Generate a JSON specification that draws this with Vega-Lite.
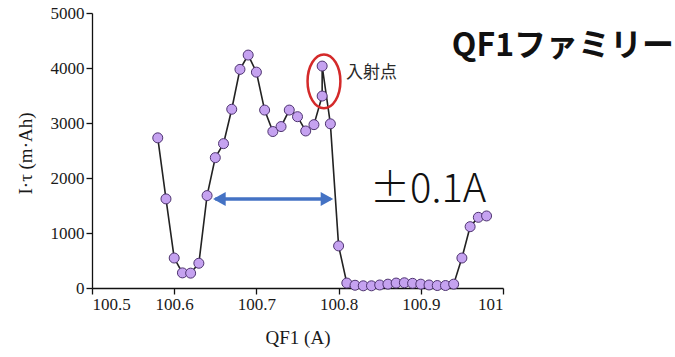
{
  "$schema": "https://vega.github.io/schema/vega-lite/v6.json",
  "autosize": "none",
  "padding": {"left": 92, "top": 13, "right": 172, "bottom": 69},
  "width": 411,
  "height": 275,
  "background": "white",
  "config": {
    "view": {"stroke": null},
    "axis": {
      "grid": false,
      "domainColor": "#111",
      "tickColor": "#111",
      "domainWidth": 1.3,
      "tickWidth": 1.3,
      "tickSize": 6,
      "labelFont": "Liberation Serif",
      "titleFont": "Liberation Serif",
      "labelColor": "#1a1a1a",
      "titleColor": "#1a1a1a",
      "titleFontWeight": "normal"
    }
  },
  "datasets": {
    "main": [
      {"i": 1, "x": 100.58, "y": 2730},
      {"i": 2, "x": 100.59, "y": 1620},
      {"i": 3, "x": 100.60, "y": 545},
      {"i": 4, "x": 100.61, "y": 275},
      {"i": 5, "x": 100.62, "y": 270},
      {"i": 6, "x": 100.63, "y": 450},
      {"i": 7, "x": 100.64, "y": 1680},
      {"i": 8, "x": 100.65, "y": 2370},
      {"i": 9, "x": 100.66, "y": 2625},
      {"i": 10, "x": 100.67, "y": 3250},
      {"i": 11, "x": 100.68, "y": 3975},
      {"i": 12, "x": 100.69, "y": 4235},
      {"i": 13, "x": 100.70, "y": 3925},
      {"i": 14, "x": 100.71, "y": 3235},
      {"i": 15, "x": 100.72, "y": 2845},
      {"i": 16, "x": 100.73, "y": 2935},
      {"i": 17, "x": 100.74, "y": 3235},
      {"i": 18, "x": 100.75, "y": 3115},
      {"i": 19, "x": 100.76, "y": 2855},
      {"i": 20, "x": 100.77, "y": 2970},
      {"i": 21, "x": 100.78, "y": 3490},
      {"i": 22, "x": 100.78, "y": 4035},
      {"i": 23, "x": 100.79, "y": 2985},
      {"i": 24, "x": 100.80, "y": 765},
      {"i": 25, "x": 100.81, "y": 90},
      {"i": 26, "x": 100.82, "y": 50},
      {"i": 27, "x": 100.83, "y": 40},
      {"i": 28, "x": 100.84, "y": 40},
      {"i": 29, "x": 100.85, "y": 55},
      {"i": 30, "x": 100.86, "y": 70},
      {"i": 31, "x": 100.87, "y": 90},
      {"i": 32, "x": 100.88, "y": 95},
      {"i": 33, "x": 100.89, "y": 85},
      {"i": 34, "x": 100.90, "y": 70},
      {"i": 35, "x": 100.91, "y": 55},
      {"i": 36, "x": 100.92, "y": 45},
      {"i": 37, "x": 100.93, "y": 45},
      {"i": 38, "x": 100.94, "y": 70},
      {"i": 39, "x": 100.95, "y": 545},
      {"i": 40, "x": 100.96, "y": 1115},
      {"i": 41, "x": 100.97, "y": 1285},
      {"i": 42, "x": 100.98, "y": 1310}
    ]
  },
  "layer": [
    {
      "data": {"name": "main"},
      "mark": {"type": "line", "color": "#222", "strokeWidth": 1.6},
      "encoding": {
        "x": {
          "field": "x", "type": "quantitative",
          "scale": {"domain": [100.5, 101], "nice": false, "zero": false},
          "axis": {
            "title": "QF1 (A)",
            "values": [100.5, 100.6, 100.7, 100.8, 100.9, 101],
            "format": "~f",
            "labelFontSize": 17,
            "labelPadding": 2,
            "titleFontSize": 19,
            "titleBaseline": "alphabetic",
            "titleY": 55
          }
        },
        "y": {
          "field": "y", "type": "quantitative",
          "scale": {"domain": [0, 5000], "nice": false},
          "axis": {
            "title": "I·τ (m·Ah)",
            "values": [0, 1000, 2000, 3000, 4000, 5000],
            "format": "d",
            "labelFontSize": 17,
            "labelPadding": 2,
            "titleFontSize": 19,
            "titleX": -67,
            "titleY": 140,
            "titleAngle": -90,
            "titleBaseline": "middle",
            "titleAlign": "center"
          }
        },
        "order": {"field": "i", "type": "quantitative"}
      }
    },
    {
      "data": {"name": "main"},
      "mark": {"type": "point", "shape": "circle", "filled": true, "fill": "#C5A2F0", "stroke": "#4E3470", "strokeWidth": 1, "size": 100, "opacity": 1},
      "encoding": {
        "x": {"field": "x", "type": "quantitative"},
        "y": {"field": "y", "type": "quantitative"}
      }
    },
    {
      "data": {"values": [{"x1": 100.650, "x2": 100.790, "y": 1620}]},
      "mark": {"type": "rule", "color": "#4472C4", "strokeWidth": 3.5},
      "encoding": {
        "x": {"field": "x1", "type": "quantitative"},
        "x2": {"field": "x2"},
        "y": {"field": "y", "type": "quantitative"}
      }
    },
    {
      "data": {"values": [{"x": 100.6473, "y": 1620, "dir": "left"}]},
      "mark": {"type": "point", "shape": "M0,0L1.8,-1L1.8,1Z", "filled": true, "color": "#4472C4", "size": 196, "opacity": 1},
      "encoding": {
        "x": {"field": "x", "type": "quantitative"},
        "y": {"field": "y", "type": "quantitative"}
      }
    },
    {
      "data": {"values": [{"x": 100.7935, "y": 1620, "dir": "right"}]},
      "mark": {"type": "point", "shape": "M0,0L-1.8,-1L-1.8,1Z", "filled": true, "color": "#4472C4", "size": 196, "opacity": 1},
      "encoding": {
        "x": {"field": "x", "type": "quantitative"},
        "y": {"field": "y", "type": "quantitative"}
      }
    },
    {
      "data": {"values": [{"x": 100.7822, "y": 3758}]},
      "mark": {"type": "point", "shape": "M-0.61,0A0.61,1 0 1,0 0.61,0A0.61,1 0 1,0 -0.61,0Z", "filled": false, "stroke": "#D42A2A", "strokeWidth": 2.5, "size": 2900, "opacity": 1},
      "encoding": {
        "x": {"field": "x", "type": "quantitative"},
        "y": {"field": "y", "type": "quantitative"}
      }
    },
    {
      "data": {"values": [{"x": 100.809, "y": 3918, "label": "入射点"}]},
      "mark": {"type": "text", "align": "left", "baseline": "middle", "font": "Noto Sans CJK JP", "fontSize": 17, "color": "#2a2a2a", "letterSpacing": 3},
      "encoding": {
        "x": {"field": "x", "type": "quantitative"},
        "y": {"field": "y", "type": "quantitative"},
        "text": {"field": "label"}
      }
    },
    {
      "data": {"values": [{"x": 100.8382, "y": 1564, "label": "±0.1A"}]},
      "mark": {"type": "text", "align": "left", "baseline": "alphabetic", "font": "Noto Sans CJK JP", "fontSize": 40, "fontWeight": 300, "color": "#111"},
      "encoding": {
        "x": {"field": "x", "type": "quantitative"},
        "y": {"field": "y", "type": "quantitative"},
        "text": {"field": "label"}
      }
    },
    {
      "data": {"values": [{"x": 100.9378, "y": 4218, "label": "QF1ファミリー"}]},
      "mark": {"type": "text", "align": "left", "baseline": "alphabetic", "font": "Noto Sans CJK JP", "fontSize": 32, "fontWeight": "bold", "color": "#111"},
      "encoding": {
        "x": {"field": "x", "type": "quantitative"},
        "y": {"field": "y", "type": "quantitative"},
        "text": {"field": "label"}
      }
    }
  ]
}
